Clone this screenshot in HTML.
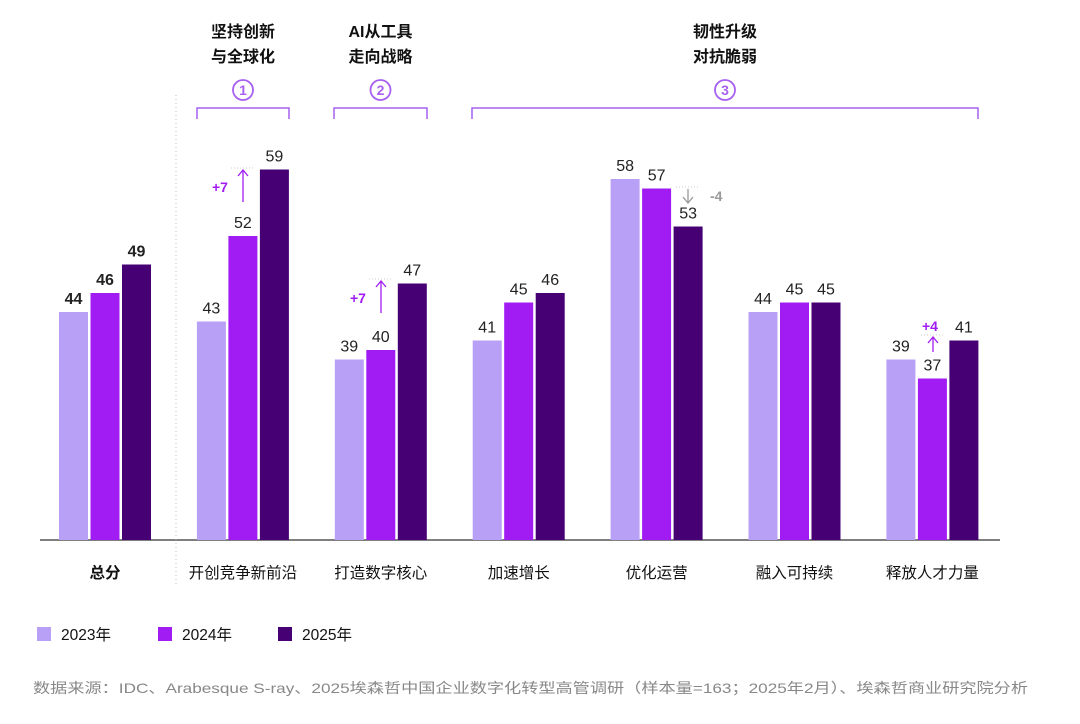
<!DOCTYPE html>
<html><head><meta charset="utf-8"><style>
body{margin:0;background:#fff;font-family:"Liberation Sans","Noto Sans CJK SC",sans-serif;}
svg text{font-family:"Liberation Sans","Noto Sans CJK SC",sans-serif;}
</style></head><body>
<svg id="chart" width="1080" height="719" viewBox="0 0 1080 719" xmlns="http://www.w3.org/2000/svg"></svg>
<script>
const categories=["总分","开创竞争新前沿","打造数字核心","加速增长","优化运营","融入可持续","释放人才力量"];
const seriesNames=["2023年","2024年","2025年"];
const v2023=[44,43,39,41,58,44,39];
const v2024=[46,52,40,45,57,45,37];
const v2025=[49,59,47,46,53,45,41];
const colors=["#b9a0f7","#a01cf2","#460073"];
const svg=document.getElementById('chart');
const NS="http://www.w3.org/2000/svg";
function el(t,a,txt){const e=document.createElementNS(NS,t);for(const k in a)e.setAttribute(k,a[k]);if(txt!==undefined)e.textContent=txt;svg.appendChild(e);return e;}
const y=v=>540-(v-20)*9.5;
const gx=i=>59+i*137.9;
const bx=(i,s)=>gx(i)+s*31.5;
const all=[v2023,v2024,v2025];
let ax=el('line',{x1:40,y1:540,x2:1000,y2:540,stroke:'#555','stroke-width':1.5});


let sep=el('line',{x1:176,y1:95,x2:176,y2:585,stroke:'#bbb','stroke-width':1,'stroke-dasharray':'1,3'});


for(let i=0;i<categories.length;i++){
 for(let s=0;s<3;s++){
  const v=all[s][i];
  const r=el('rect',{x:bx(i,s),y:y(v),width:29,height:540-y(v),fill:colors[s]});
  
  
  const t=el('text',{x:bx(i,s)+14.5,y:y(v)-8,'text-anchor':'middle','font-size':16,fill:'#222','font-weight':i===0?'bold':'normal'},v);
  
  
 }
 const c=el('text',{x:gx(i)+46,y:578,'text-anchor':'middle','font-size':15.5,fill:'#111','font-weight':i===0?'bold':'normal'},categories[i]);
 
 
}
function ann(x,yTop,yBot,label,lx,ly,col,up){
 el('line',{x1:x-12,y1:yTop,x2:x+12,y2:yTop,stroke:'#ccc','stroke-dasharray':'1,2'});
 el('line',{x1:x,y1:yTop+2,x2:x,y2:yBot,stroke:col,'stroke-width':1.3});
 if(up) el('path',{d:`M${x-5} ${yTop+8} L${x} ${yTop+2} L${x+5} ${yTop+8}`,fill:'none',stroke:col,'stroke-width':1.3});
 else el('path',{d:`M${x-5} ${yBot-6} L${x} ${yBot} L${x+5} ${yBot-6}`,fill:'none',stroke:col,'stroke-width':1.3});
 const t=el('text',{x:lx,y:ly,'font-size':14,'font-weight':'bold',fill:col},label);
 
 
}
ann(243,168,202,'+7',212,192,'#a01cf2',true);
ann(381,279,313,'+7',350,303,'#a01cf2',true);
ann(688,187,203,'-4',710,201,'#999',false);
ann(933,335,352,'+4',922,331,'#a01cf2',true);
const col='#a860f0';
function br(x1,x2,num,l1,l2){
 el('path',{d:`M${x1} 119 V108 H${x2} V119`,fill:'none',stroke:col,'stroke-width':1.5});
 const cx=(x1+x2)/2;
 el('circle',{cx:cx,cy:90,r:10,fill:'none',stroke:col,'stroke-width':1.8});
 el('text',{x:cx,y:95,'text-anchor':'middle','font-size':14,'font-weight':'bold',fill:col},num);
 const a=el('text',{x:cx,y:37,'text-anchor':'middle','font-size':16,'font-weight':'bold',fill:'#111'},l1);
 
 
 el('text',{x:cx,y:62,'text-anchor':'middle','font-size':16,'font-weight':'bold',fill:'#111'},l2);
}
br(197,289,'1','坚持创新','与全球化');
br(334,427,'2','AI从工具','走向战略');
br(472,978,'3','韧性升级','对抗脆弱');
const lx=[37,158,278];
for(let s=0;s<3;s++){
 const r=el('rect',{x:lx[s],y:627,width:14,height:14,fill:colors[s]});
 
 
 const t=el('text',{x:lx[s]+24,y:640,'font-size':15.5,fill:'#111'},seriesNames[s]);
 
 
}
const src=el('text',{x:33,y:693,'font-size':14,fill:'#888',textLength:995,lengthAdjust:'spacingAndGlyphs'},'数据来源：IDC、Arabesque S-ray、2025埃森哲中国企业数字化转型高管调研（样本量=163；2025年2月）、埃森哲商业研究院分析');


</script>
</body></html>
